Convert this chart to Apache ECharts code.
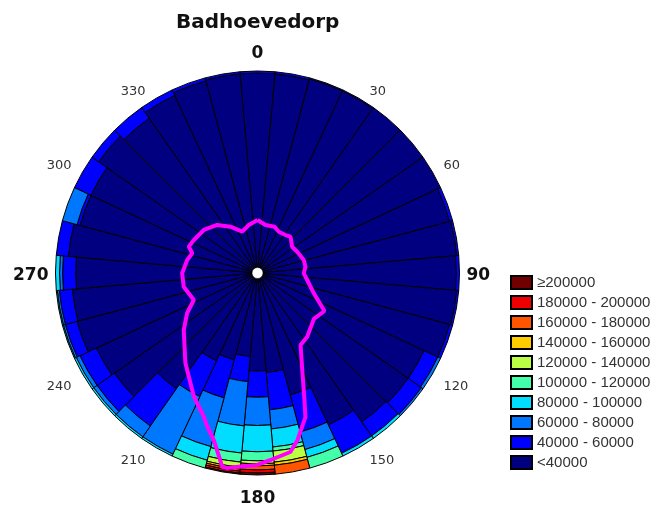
<!DOCTYPE html>
<html>
<head>
<meta charset="utf-8">
<script src="https://cdn.jsdelivr.net/npm/echarts@6/dist/echarts.min.js"></script>
<style>html,body{margin:0;padding:0;background:#fff}#chart{width:652px;height:510px}</style>
</head>
<body>
<div id="chart"></div>
<script>
// wind direction sectors (degrees, clockwise from north)
const directions = ['0','10','20','30','40','50','60','70','80','90','100','110','120','130','140','150','160','170',
                    '180','190','200','210','220','230','240','250','260','270','280','290','300','310','320','330','340','350'];

// class names (inner -> outer) and colours
const classNames = ['<40000','40000 - 60000','60000 - 80000','80000 - 100000','100000 - 120000',
                    '120000 - 140000','140000 - 160000','160000 - 180000','180000 - 200000','\u2265200000'];
const classColors = ['#000080','#0000FF','#0077FF','#00DDFF','#44FFAA','#BBFF44','#FFCC00','#FF5500','#EE0000','#700000'];

// radial depth of each class per sector (centre = 0, rim = 200)
const bandLt40k    = [198,198,199,199,200,200,200,197,198,197,198,197,182,182,180,166,125,99,97,83,89,96,140,173,176,185,184,180,188,182,182,192,187,194,197,198];
const band40to60   = [2,2,1,1,0,0,0,3,2,3,2,3,15,16,17,31,38,37,26,25,39,39,45,21,18,12,13,13,12,3,18,8,13,6,3,2];
const band60to80   = [0,0,0,0,0,0,0,0,0,0,0,0,3,2,0,0,18,19,28,44,50,63,13,4,4,2,2,3,0,15,0,0,0,0,0,0];
const band80to100  = [0,0,0,0,0,0,0,0,0,0,0,0,0,0,3,3,8,18,26,27,14,2,2,2,2,1,1,4,0,0,0,0,0,0,0,0];
const band100to120 = [0,0,0,0,0,0,0,0,0,0,0,0,0,0,0,0,11,4,9,9,8,0,0,0,0,0,0,0,0,0,0,0,0,0,0,0];
const band120to140 = [0,0,0,0,0,0,0,0,0,0,0,0,0,0,0,0,0,11,3,5,0,0,0,0,0,0,0,0,0,0,0,0,0,0,0,0];
const band140to160 = [0,0,0,0,0,0,0,0,0,0,0,0,0,0,0,0,0,3,2,2,0,0,0,0,0,0,0,0,0,0,0,0,0,0,0,0];
const band160to180 = [0,0,0,0,0,0,0,0,0,0,0,0,0,0,0,0,0,9,4,2,0,0,0,0,0,0,0,0,0,0,0,0,0,0,0,0];
const band180to200 = [0,0,0,0,0,0,0,0,0,0,0,0,0,0,0,0,0,0,3,2,0,0,0,0,0,0,0,0,0,0,0,0,0,0,0,0];
const bandGe200k   = [0,0,0,0,0,0,0,0,0,0,0,0,0,0,0,0,0,0,2,1,0,0,0,0,0,0,0,0,0,0,0,0,0,0,0,0];
const bands = [bandLt40k,band40to60,band60to80,band80to100,band100to120,band120to140,band140to160,band160to180,band180to200,bandGe200k];

// magenta contour (direction in degrees, distance on the same 0-200 scale)
const contourAngle  = [0,9.5,20.2,27.3,36.4,42.3,52.8,61.8,74.3,82.5,90.4,98,109.6,119.6,129.2,142,149.1,155.6,159.7,161.6,166.5,169.6,176,180.1,185,189,190.3,191.6,194.7,198.1,200.5,207.2,218.7,232.3,240.4,247,259.5,269.8,280.5,286.8,291,297.4,308.7,320,329.7,339.7,349.7,360];
const contourRadius = [52.5,48.2,48.8,46,46.7,48.6,43,44.6,47.6,47.9,45.8,49.7,59.1,76.2,72,80,83,107.6,134,150.3,170,180.2,185.6,190,192.3,195.4,195,187,170.9,160.1,151.9,137.7,114.2,92.3,80.1,68.5,74.3,74.6,70.8,67.5,72.9,71,68.1,62.1,53.1,43.6,48.3,52.5];

const boldLabels = ['0','90','180','270'];

const chart = echarts.init(document.getElementById('chart'), null, {renderer:'canvas'});

const barSeries = classNames.map((name, k) => ({
  type: 'bar',
  name: name,
  coordinateSystem: 'polar',
  polarIndex: 0,
  stack: 'rings',
  barCategoryGap: '0%',
  silent: true,
  data: bands[k].map(v => v > 0 ? v : '-'),
  itemStyle: { color: classColors[k], borderColor: '#000', borderWidth: 1 }
}));

const option = {
  animation: false,
  backgroundColor: '#fff',
  title: {
    text: 'Badhoevedorp',
    left: 176, top: 13, padding: 0,
    textStyle: { fontFamily: 'DejaVu Sans', fontWeight: 'bold', fontSize: 20, color: '#111' }
  },
  legend: {
    orient: 'vertical',
    left: 510, top: 275, padding: 0,
    itemWidth: 21, itemHeight: 13, itemGap: 5,
    icon: 'rect',
    selectedMode: false,
    data: classNames.slice().reverse(),
    textStyle: { fontFamily: 'Liberation Sans', fontSize: 15, lineHeight: 13, color: '#333' }
  },
  polar: [
    { center: [257.5, 273], radius: [0, 202] },
    { center: [257.5, 273], radius: [0, 202] }
  ],
  angleAxis: [
    {
      polarIndex: 0, type: 'category', data: directions,
      startAngle: 95, clockwise: true,
      axisLine: { show: false }, axisTick: { show: false }, splitLine: { show: false },
      axisLabel: {
        interval: 2, margin: 0,
        formatter: v => boldLabels.includes(v) ? '{b|' + v + '}' : '{n|' + v + '}',
        rich: {
          b: { fontFamily: 'DejaVu Sans', fontWeight: 'bold', fontSize: 17, color: '#111', padding: [15, 7, 9, 7] },
          n: { fontFamily: 'DejaVu Sans', fontSize: 13, color: '#333', padding: [6, 11, 0, 11] }
        }
      }
    },
    {
      polarIndex: 1, type: 'value', min: 0, max: 360,
      startAngle: 90, clockwise: true, show: false
    }
  ],
  radiusAxis: [
    { polarIndex: 0, type: 'value', min: 0, max: 200, show: false, axisLine:{show:false}, splitLine:{show:false}, axisLabel:{show:false}, axisTick:{show:false} },
    { polarIndex: 1, type: 'value', min: 0, max: 200, show: false, axisLine:{show:false}, splitLine:{show:false}, axisLabel:{show:false}, axisTick:{show:false} }
  ],
  series: barSeries.concat([
    {
      type: 'line', name: 'contour', coordinateSystem: 'polar', polarIndex: 1,
      symbol: 'none', silent: true, z: 5,
      lineStyle: { color: '#FF00FF', width: 4 },
      data: contourAngle.map((a, i) => [contourRadius[i], a])
    },
    {
      type: 'scatter', name: 'centre', coordinateSystem: 'polar', polarIndex: 1,
      symbolSize: 11, silent: true, z: 6,
      itemStyle: { color: '#ffffff', opacity: 1, borderColor: '#000', borderWidth: 0.5 },
      data: [[0, 0]]
    }
  ])
};
chart.setOption(option);
</script>
</body>
</html>
